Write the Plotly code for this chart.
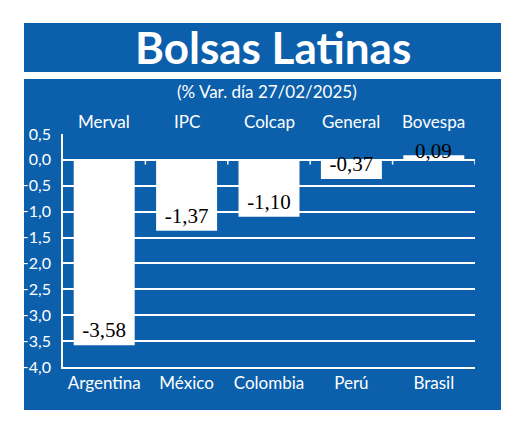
import plotly.graph_objects as go

countries = ["Argentina", "México", "Colombia", "Perú", "Brasil"]
indices = ["Merval", "IPC", "Colcap", "General", "Bovespa"]
values = [-3.58, -1.37, -1.10, -0.37, 0.09]
y_ticks = [0.5, 0.0, -0.5, -1.0, -1.5, -2.0, -2.5, -3.0, -3.5, -4.0]

BLUE = "#0C60AB"
W, H = 520, 426
ML, MR, MT, MB = 63, 45, 134, 59
PW, PH = W - ML - MR, H - MT - MB

def px(x):
    return (x - ML) / PW

def py(y):
    return (H - MB - y) / PH

labels = [f"{v:.2f}".replace(".", ",") for v in values]
xs = list(range(len(countries)))

fig = go.Figure()
fig.add_trace(go.Bar(
    x=xs, y=values, width=0.74,
    marker=dict(color="white", line=dict(width=0)),
    text=[t if v < 0 else "" for t, v in zip(labels, values)],
    textposition="inside", insidetextanchor="end",
    textfont=dict(family="Liberation Serif", size=21, color="black"),
    cliponaxis=False,
))

shapes = [
    dict(type="rect", xref="paper", yref="paper", x0=px(24), x1=px(501),
         y0=py(72), y1=py(23), fillcolor=BLUE, line=dict(width=0), layer="below"),
    dict(type="rect", xref="paper", yref="paper", x0=px(24), x1=px(501),
         y0=py(410), y1=py(79), fillcolor=BLUE, line=dict(width=0), layer="below"),
]
for i in range(len(countries)):
    shapes.append(dict(type="line", xref="x", yref="y", x0=i + 0.5, x1=i + 0.5,
                       y0=0, y1=-0.09, line=dict(color="white", width=1.5)))

annotations = [
    dict(text="Bolsas Latinas", xref="paper", yref="paper", x=px(273), y=py(47),
         xanchor="center", yanchor="middle",
         showarrow=False, font=dict(family="Lato", size=44, color="white", weight="bold")),
    dict(text="(% Var. día 27/02/2025)", xref="paper", yref="paper", x=px(267), y=py(92),
         xanchor="center", yanchor="middle",
         showarrow=False, font=dict(family="Lato", size=17, color="white")),
]
for i, name in enumerate(indices):
    annotations.append(dict(text=name, xref="x", yref="paper", x=i, y=py(121),
                            xanchor="center", yanchor="middle",
                            showarrow=False, font=dict(family="Lato", size=17, color="white")))
for i, (t, v) in enumerate(zip(labels, values)):
    if v >= 0:
        annotations.append(dict(text=t, xref="x", yref="y", x=i, y=v,
                                xanchor="center", yanchor="middle", yshift=4,
                                showarrow=False,
                                font=dict(family="Liberation Serif", size=21, color="black")))

fig.update_layout(
    width=W, height=H,
    margin=dict(l=ML, r=MR, t=MT, b=MB, pad=0),
    paper_bgcolor="white", plot_bgcolor="rgba(0,0,0,0)",
    showlegend=False, separators=",.",
    shapes=shapes, annotations=annotations,
    uniformtext=dict(minsize=21, mode="show"),
)
fig.update_xaxes(
    range=[-0.5, len(countries) - 0.5], tickvals=xs, ticktext=countries,
    showgrid=False, zeroline=False, showline=True, linecolor="white", linewidth=1.5,
    ticks="", tickfont=dict(family="Lato", size=17, color="white"), fixedrange=True,
)
fig.update_yaxes(
    range=[-4.0, 0.5], tickvals=y_ticks, tickformat=".1f",
    showgrid=True, gridcolor="white", gridwidth=1.5,
    zeroline=True, zerolinecolor="white", zerolinewidth=1.5,
    showline=True, linecolor="white", linewidth=1.5,
    ticks="", ticklabelstandoff=7,
    tickfont=dict(family="Lato", size=16, color="white"), fixedrange=True,
)

fig.write_html("out.html", config={"displayModeBar": False},
               post_script="document.body.style.margin='0px';")
